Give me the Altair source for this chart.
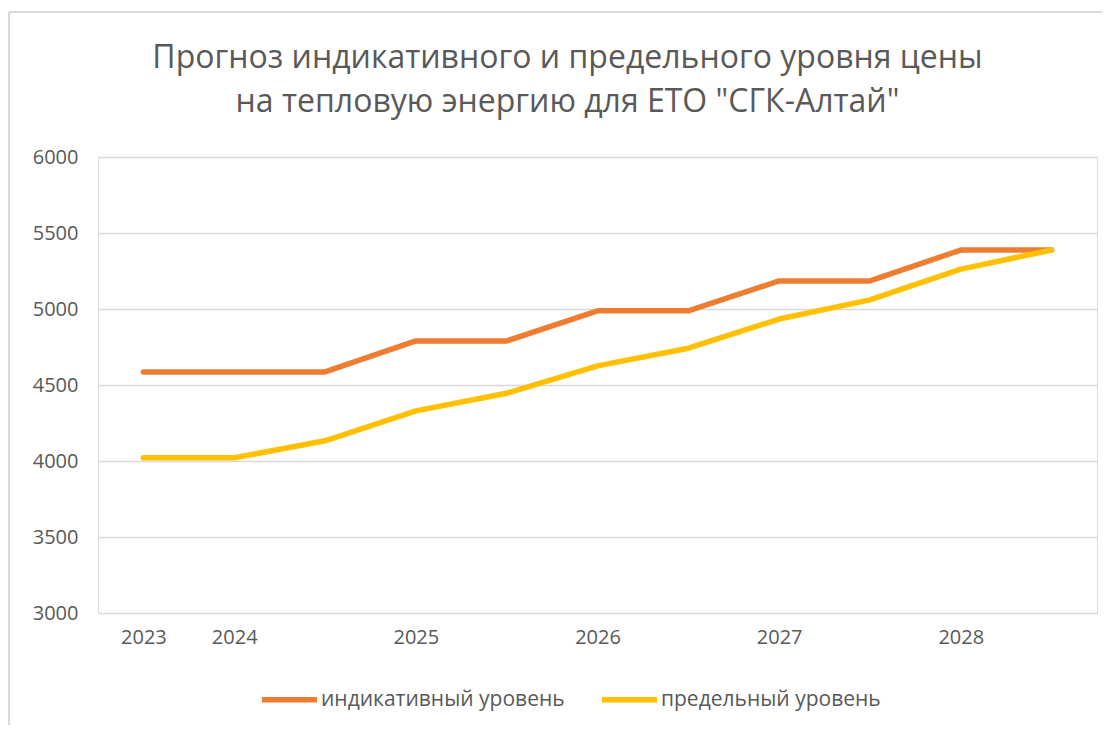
import json
import altair as alt
import pandas as pd

categories = ["2023", "2024", "", "2025", "", "2026", "", "2027", "", "2028", ""]
indicative = [4586, 4586, 4586, 4790, 4790, 4988, 4988, 5185, 5185, 5388, 5388]
limit = [4021, 4021, 4133, 4330, 4446, 4626, 4742, 4934, 5060, 5262, 5388]
series_names = ["индикативный уровень", "предельный уровень"]
series_colors = ["#ED7D31", "#FFC000"]
title_lines = ["Прогноз индикативного и предельного уровня цены",
               "на тепловую энергию для ЕТО \"СГК-Алтай\""]

rows = []
for i in range(len(categories)):
    rows.append({"idx": i, "series": series_names[0], "value": indicative[i]})
    rows.append({"idx": i, "series": series_names[1], "value": limit[i]})
df = pd.DataFrame(rows)

FONT = "Open Sans"
GRAY = "#595959"
label_expr = json.dumps(categories) + "[datum.value]"

lines = alt.Chart(df).mark_line(strokeWidth=5.5, strokeCap="round", strokeJoin="round").encode(
    x=alt.X("idx:Q",
            scale=alt.Scale(domain=[-0.5, len(categories) - 0.5], nice=False, zero=False),
            axis=alt.Axis(values=list(range(len(categories))), labelExpr=label_expr,
                          title=None, grid=False, ticks=False, domain=False,
                          labelFont=FONT, labelFontSize=20, labelColor=GRAY,
                          labelPadding=14)),
    y=alt.Y("value:Q",
            scale=alt.Scale(domain=[3000, 6000], nice=False, zero=False),
            axis=alt.Axis(values=[3000, 3500, 4000, 4500, 5000, 5500, 6000], title=None,
                          format="d",
                          grid=True, gridColor="#D9D9D9", gridWidth=1.5,
                          ticks=False, domain=False,
                          labelFont=FONT, labelFontSize=20, labelColor=GRAY,
                          labelPadding=20)),
    color=alt.Color("series:N",
                    scale=alt.Scale(domain=series_names, range=series_colors),
                    legend=alt.Legend(orient="none", legendX=161, legendY=512,
                                      direction="horizontal", title=None,
                                      symbolType="stroke", symbolSize=3025,
                                      symbolStrokeWidth=5.5, labelOffset=1,
                                      columnPadding=26, labelLimit=500,
                                      labelFont=FONT, labelFontSize=21,
                                      labelColor=GRAY)),
    order=alt.Order("idx:Q"),
)

frame_left = alt.Chart(df).mark_rule(color="#D9D9D9", strokeWidth=1.5).encode(
    x=alt.value(-89), y=alt.value(-145), y2=alt.value(600))
frame_top = alt.Chart(df).mark_rule(color="#D9D9D9", strokeWidth=1.5).encode(
    x=alt.value(-89), x2=alt.value(1030), y=alt.value(-145))

chart = alt.layer(frame_left, frame_top, lines).properties(
    width=999, height=456,
    autosize=alt.AutoSizeParams(type="none"),
    padding={"left": 90, "top": 149, "right": 5, "bottom": 112},
    title=alt.TitleParams(text=title_lines, font=FONT, fontSize=32,
                          fontWeight="normal", color=GRAY, lineHeight=44,
                          anchor="middle", dx=-30, offset=-108),
).configure_view(stroke=None).configure(background="white")

chart.save("out.html", embed_options={"renderer": "svg", "actions": False})
